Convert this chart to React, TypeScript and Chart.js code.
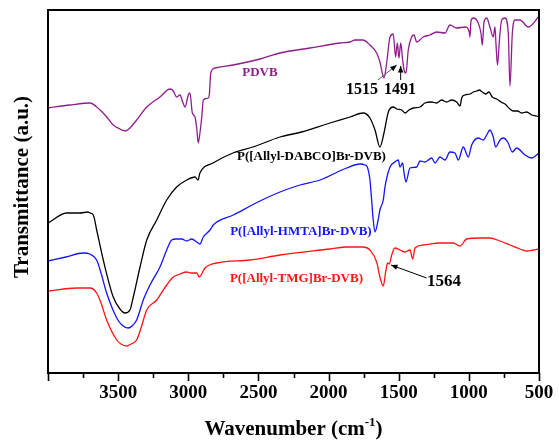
import { useEffect, useRef } from "react";
import { Chart, registerables } from "chart.js";

Chart.register(...registerables);

// FTIR spectra: wavenumber (cm-1) vs. transmittance (arbitrary units, offset per sample)
const pdvbWavenumber = [
  4000, 3843, 3701, 3629, 3587, 3535, 3487, 3451, 3416, 3368, 3296, 3202, 3130, 3107, 3083, 3059,
  3040, 3023, 3000, 2988, 2971, 2952, 2940, 2929, 2917, 2904, 2893, 2857, 2849, 2840, 2810, 2681,
  2489, 2346, 2133, 1919, 1847, 1811, 1755, 1705, 1657, 1634, 1605, 1586, 1562, 1539, 1522, 1510,
  1498, 1486, 1472, 1462, 1448, 1432, 1408, 1391, 1372, 1325, 1277, 1230, 1170, 1135, 1087, 1028,
  997, 992, 985, 968, 933, 914, 904, 892, 873, 850, 826, 814, 807, 796, 786, 778, 766, 742, 719,
  707, 690, 671, 636, 576, 505, 500,
];
const pdvbT = [
  265, 268, 270, 263, 257, 248, 244, 242, 245, 253, 266, 276, 284, 282, 276, 278,
  271, 266, 278, 280, 260, 256, 245, 230, 240, 256, 273, 275, 280, 300, 305, 308,
  314, 320, 325, 330, 331, 333, 333, 328, 320, 311, 295, 310, 336, 339, 316, 330,
  315, 330, 313, 303, 300, 323, 336, 338, 331, 336, 338, 341, 340, 348, 345, 346,
  341, 336, 352, 355, 350, 340, 328, 351, 355, 346, 336, 346, 330, 308, 325, 340, 353, 355, 340,
  287, 340, 353, 353, 346, 356, 357,
];

const dabcoWavenumber = [
  4000, 3867, 3772, 3715, 3701, 3677, 3653, 3606, 3535, 3487, 3451, 3416, 3392, 3344, 3296, 3225,
  3154, 3083, 3011, 2952, 2931, 2917, 2824, 2681, 2539, 2346, 2192, 1990, 1847, 1753, 1705, 1669,
  1634, 1605, 1574, 1539, 1513, 1479, 1455, 1427, 1396, 1348, 1313, 1265, 1230, 1194, 1158, 1123,
  1087, 1063, 1051, 1028, 992, 968, 944, 925, 904, 880, 857, 833, 802, 771, 742, 707, 683, 652,
  624, 588, 552, 517, 500,
];
const dabcoT = [
  150, 160, 160, 161, 160, 158, 143, 113, 76, 64, 60, 63, 76, 106, 133, 153,
  173, 186, 193, 196, 193, 200, 210, 220, 226, 236, 241, 250, 256, 260, 255, 243,
  226, 240, 261, 266, 264, 263, 260, 263, 265, 266, 270, 271, 270, 273, 271, 273,
  271, 267, 275, 278, 279, 281, 282, 283, 281, 279, 281, 276, 274, 271, 269, 264, 262, 262,
  260, 261, 258, 257, 256,
];

const hmtaWavenumber = [
  4000, 3872, 3748, 3701, 3653, 3622, 3582, 3510, 3473, 3428, 3401, 3368, 3321, 3273, 3202, 3154,
  3118, 3088, 3047, 3011, 2976, 2940, 2917, 2893, 2845, 2822, 2679, 2489, 2346, 2204, 2061, 1871,
  1776, 1740, 1724, 1705, 1693, 1683, 1669, 1648, 1634, 1610, 1598, 1562, 1527, 1503, 1491, 1472,
  1462, 1448, 1420, 1372, 1348, 1313, 1265, 1241, 1206, 1170, 1135, 1099, 1075, 1040, 1004, 980,
  933, 897, 873, 850, 826, 809, 778, 755, 723, 690, 659, 600, 552, 500,
];
const hmtaT = [
  112, 116, 120, 119, 113, 100, 80, 55, 48, 45, 47, 53, 73, 88, 106, 123,
  133, 134, 134, 132, 134, 131, 129, 136, 143, 148, 158, 172, 181, 188, 193, 205,
  209, 208, 206, 193, 173, 155, 141, 152, 163, 173, 186, 206, 211, 213, 206, 210,
  200, 191, 205, 206, 212, 211, 215, 210, 216, 213, 221, 220, 213, 226, 216, 228,
  235, 233, 238, 243, 236, 226, 233, 235, 231, 221, 225, 218, 215, 220,
];

const tmgWavenumber = [
  4000, 3796, 3701, 3653, 3622, 3582, 3510, 3480, 3439, 3408, 3368, 3337, 3296, 3225, 3154, 3107,
  3059, 3011, 2981, 2940, 2922, 2881, 2798, 2560, 2346, 1990, 1871, 1753, 1705, 1657, 1634, 1610,
  1591, 1579, 1567, 1550, 1527, 1491, 1455, 1420, 1400, 1384, 1325, 1206, 1111, 1063, 1016, 921,
  850, 778, 707, 636, 588, 541, 500,
];
const tmgT = [
  82, 85, 85, 80, 70, 53, 33, 29, 27, 29, 33, 45, 63, 73, 88, 96,
  99, 101, 100, 100, 96, 105, 110, 113, 118, 124, 126, 126, 123, 111, 96, 87,
  103, 110, 109, 118, 125, 123, 121, 123, 114, 125, 128, 130, 130, 127, 134, 135,
  135, 132, 128, 124, 122, 123, 124,
];

const seriesNames = [
  "PDVB",
  "P([Allyl-DABCO]Br-DVB)",
  "P([Allyl-HMTA]Br-DVB)",
  "P([Allyl-TMG]Br-DVB)",
];
const seriesColors = ["#8E1E8E", "#000000", "#1414FF", "#FF1414"];
// label anchor (wavenumber, transmittance) for each series name
const seriesLabelWavenumber = [2489, 2122, 2197, 2229];
const seriesLabelT = [300, 216, 141, 94];

const xTickValues = [4000, 3750, 3500, 3250, 3000, 2750, 2500, 2250, 2000, 1750, 1500, 1250, 1000, 750, 500];

// peak annotations: text, text anchor, arrow tail and arrow tip (all in data units)
const peakLabels = ["1515", "1491", "1564"];
const peakLabelPos = [
  [1762, 283],
  [1491, 283],
  [1177, 91],
];
const peakArrowFrom = [
  [1648, 293],
  [1486, 293],
  [1301, 95],
];
const peakArrowTo = [
  [1514, 308],
  [1486, 307],
  [1555, 108],
];
const peakArrowColor = ["#555555", "#000000", "#000000"];
const peakFont = ["bold 16px 'Liberation Serif'", "bold 16px 'Liberation Serif'", "bold 17px 'Liberation Serif'"];

const toPoints = (xs: number[], ys: number[]) => xs.map((x, i) => ({ x, y: ys[i] }));

const decorations = {
  id: "decorations",
  afterDraw(chart: any) {
    const { ctx, chartArea, scales } = chart;
    const xs = scales.x;
    const ys = scales.y;
    const { left, right, top, bottom } = chartArea;
    ctx.save();

    // frame
    ctx.strokeStyle = "#000";
    ctx.lineWidth = 2;
    ctx.strokeRect(left, top, right - left, bottom - top);

    // outward ticks along the bottom axis
    ctx.lineWidth = 1.6;
    xTickValues.forEach((v) => {
      const px = Math.round(xs.getPixelForValue(v)) + 0.5;
      const len = v % 500 === 0 ? 8 : 5;
      ctx.beginPath();
      ctx.moveTo(px, bottom);
      ctx.lineTo(px, bottom + len);
      ctx.stroke();
    });

    // series names
    ctx.textAlign = "center";
    ctx.textBaseline = "middle";
    ctx.font = "bold 13px 'Liberation Serif'";
    seriesNames.forEach((name, i) => {
      ctx.fillStyle = seriesColors[i];
      ctx.fillText(name, xs.getPixelForValue(seriesLabelWavenumber[i]), ys.getPixelForValue(seriesLabelT[i]));
    });

    // peak annotations with arrows
    peakLabels.forEach((txt, i) => {
      ctx.fillStyle = "#000";
      ctx.font = peakFont[i];
      ctx.fillText(txt, xs.getPixelForValue(peakLabelPos[i][0]), ys.getPixelForValue(peakLabelPos[i][1]));
      const x0 = xs.getPixelForValue(peakArrowFrom[i][0]);
      const y0 = ys.getPixelForValue(peakArrowFrom[i][1]);
      const x1 = xs.getPixelForValue(peakArrowTo[i][0]);
      const y1 = ys.getPixelForValue(peakArrowTo[i][1]);
      const ang = Math.atan2(y1 - y0, x1 - x0);
      ctx.strokeStyle = peakArrowColor[i];
      ctx.lineWidth = 1;
      ctx.beginPath();
      ctx.moveTo(x0, y0);
      ctx.lineTo(x1, y1);
      ctx.stroke();
      ctx.fillStyle = "#000";
      ctx.beginPath();
      ctx.moveTo(x1, y1);
      ctx.lineTo(x1 - 7 * Math.cos(ang - 0.4), y1 - 7 * Math.sin(ang - 0.4));
      ctx.lineTo(x1 - 7 * Math.cos(ang + 0.4), y1 - 7 * Math.sin(ang + 0.4));
      ctx.closePath();
      ctx.fill();
    });

    // axis titles
    ctx.fillStyle = "#000";
    ctx.font = "bold 21px 'Liberation Serif'";
    ctx.save();
    ctx.translate(23, 187);
    ctx.rotate(-Math.PI / 2);
    ctx.textAlign = "center";
    ctx.textBaseline = "middle";
    ctx.fillText("Transmittance (a.u.)", 0, 0);
    ctx.restore();

    const main = "Wavenumber (cm";
    const sup = "-1";
    const close = ")";
    ctx.font = "bold 21px 'Liberation Serif'";
    const wMain = ctx.measureText(main).width;
    const wClose = ctx.measureText(close).width;
    ctx.font = "bold 13px 'Liberation Serif'";
    const wSup = ctx.measureText(sup).width;
    const total = wMain + wSup + wClose;
    const cx = (left + right) / 2;
    let x = cx - total / 2;
    const base = 435;
    ctx.textAlign = "left";
    ctx.textBaseline = "alphabetic";
    ctx.font = "bold 21px 'Liberation Serif'";
    ctx.fillText(main, x, base);
    x += wMain;
    ctx.font = "bold 13px 'Liberation Serif'";
    ctx.fillText(sup, x, base - 9);
    x += wSup;
    ctx.font = "bold 21px 'Liberation Serif'";
    ctx.fillText(close, x, base);

    ctx.restore();
  },
};

export default function App() {
  const canvasRef = useRef<HTMLCanvasElement | null>(null);

  useEffect(() => {
    if (!canvasRef.current) return;
    const series = [
      toPoints(pdvbWavenumber, pdvbT),
      toPoints(dabcoWavenumber, dabcoT),
      toPoints(hmtaWavenumber, hmtaT),
      toPoints(tmgWavenumber, tmgT),
    ];
    const chart = new Chart(canvasRef.current, {
      type: "line",
      data: {
        datasets: series.map((data, i) => ({
          label: seriesNames[i],
          data,
          borderColor: seriesColors[i],
          borderWidth: 1.3,
          pointRadius: 0,
          cubicInterpolationMode: "monotone" as const,
          fill: false,
        })),
      },
      options: {
        responsive: false,
        animation: false,
        devicePixelRatio: 1,
        layout: { padding: { left: 48, top: 10, right: 20, bottom: 0 } },
        plugins: { legend: { display: false }, tooltip: { enabled: false } },
        scales: {
          x: {
            type: "linear",
            min: 500,
            max: 4000,
            reverse: true,
            afterFit: (s: any) => {
              s.height = 74;
            },
            afterBuildTicks: (s: any) => {
              s.ticks = xTickValues.filter((v) => v % 500 === 0).map((v) => ({ value: v }));
            },
            ticks: {
              autoSkip: false,
              maxRotation: 0,
              padding: 1,
              color: "#000",
              font: { family: "'Liberation Serif'", size: 19, weight: "bold" },
              callback: (v: any) => (v === 4000 ? "" : String(v)),
            },
            grid: { display: true, drawOnChartArea: false, drawTicks: true, tickLength: 8, tickColor: "transparent" },
            border: { display: false },
          },
          y: {
            display: false,
            min: 0,
            max: 363,
          },
        },
      },
      plugins: [decorations],
    });
    return () => chart.destroy();
  }, []);

  return (
    <div style={{ position: "fixed", left: 0, top: 0, width: 559, height: 447, background: "#fff" }}>
      <canvas ref={canvasRef} width={559} height={447} />
    </div>
  );
}
